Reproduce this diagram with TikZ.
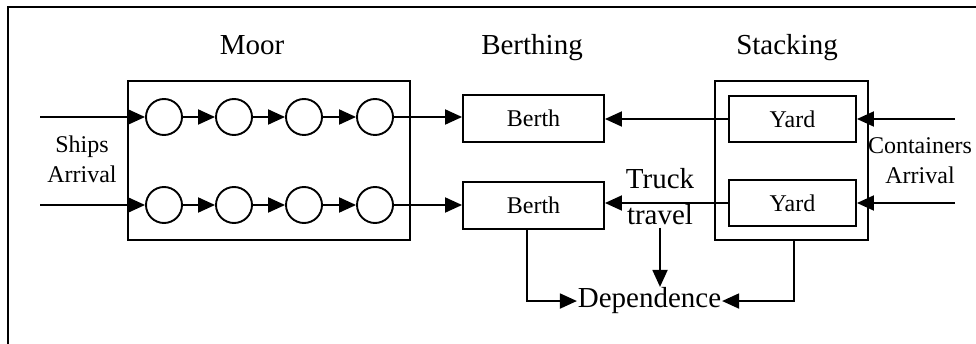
\documentclass[tikz,border=0pt]{standalone}
\usepackage{fontspec}
\setmainfont{Liberation Serif}
\usetikzlibrary{arrows.meta}
\tikzset{
  arr/.style={-{Triangle[length=17pt,width=15pt]}},
  small/.style={font=\fontsize{24}{30}\selectfont},
  big/.style={font=\fontsize{29}{36}\selectfont},
  queue/.style={circle,draw,minimum size=36pt,inner sep=0pt},
  berthbox/.style={rectangle,draw,minimum width=141pt,minimum height=47pt,inner sep=0pt,small},
  yardbox/.style={rectangle,draw,minimum width=127pt,minimum height=46pt,inner sep=0pt,small},
  groupbox/.style={rectangle,draw,minimum height=159pt,inner sep=0pt},
}
\begin{document}
\begin{tikzpicture}[x=1pt,y=-1pt,line width=1.9pt]
\useasboundingbox (0,0) rectangle (976,344);
% outer frame (cut off at right and bottom)
\coordinate (fbl) at (8,346);
\coordinate (ftl) at (8,7);
\coordinate (ftr) at (978,7);
\draw (fbl) -- (ftl) -- (ftr);

% group boxes
\node[groupbox,minimum width=282pt] (moor) at (269,160.5) {};
\node[groupbox,minimum width=153pt] (stack) at (791.5,160.5) {};

% headings
\node[big,anchor=base,inner sep=0pt] (hmoor) at (252,55) {Moor};
\node[big,anchor=base,inner sep=0pt] (hberth) at (532,55) {Berthing};
\node[big,anchor=base,inner sep=0pt] (hstack) at (787,55) {Stacking};

% queues
\foreach \i/\x in {1/164,2/234,3/304,4/375}{
  \node[queue] (a\i) at (\x,117) {};
  \node[queue] (b\i) at (\x,205) {};
}

% berths and yards
\node[berthbox] (berth1) at (533.5,118.5) {Berth};
\node[berthbox] (berth2) at (533.5,205.5) {Berth};
\node[yardbox] (yard1) at (792.5,119) {Yard};
\node[yardbox] (yard2) at (792.5,203) {Yard};

% labels
\node[small,align=center,inner sep=0pt] (ships) at (82,159) {Ships\\Arrival};
\node[small,align=center,inner sep=0pt] (cont) at (920,161) {Containers\\Arrival};
\node[big,align=center,inner sep=0pt] (truck) at (660,196.5) {Truck\\travel};
\node[big,anchor=base,inner sep=0pt] (dep) at (649.5,308) {Dependence};

% ship arrivals
\coordinate (s1) at (40,117);
\coordinate (s2) at (40,205);
\draw[arr] (s1) -- (a1);
\draw[arr] (s2) -- (b1);
\draw[arr] (a1) -- (a2);
\draw[arr] (a2) -- (a3);
\draw[arr] (a3) -- (a4);
\draw[arr] (b1) -- (b2);
\draw[arr] (b2) -- (b3);
\draw[arr] (b3) -- (b4);
\draw[arr] (a4) -- (berth1.west |- a4);
\draw[arr] (b4) -- (berth2.west |- b4);

% yard to berth
\draw[arr] (yard1.west) -- (berth1.east |- yard1.west);
\draw[arr] (yard2.west) -- (berth2.east |- yard2.west);

% container arrivals
\coordinate (k1) at (955,119);
\coordinate (k2) at (955,203);
\draw[arr] (k1) -- (yard1.east);
\draw[arr] (k2) -- (yard2.east);

% dependence
\draw[arr] ([xshift=-6.5pt]berth2.south) |- (dep.west);
\draw[arr] ([xshift=2.5pt]stack.south) |- (dep.east);
\draw[arr] ([yshift=-2pt]truck.south) -- (truck.south |- dep.north);
\end{tikzpicture}
\end{document}
